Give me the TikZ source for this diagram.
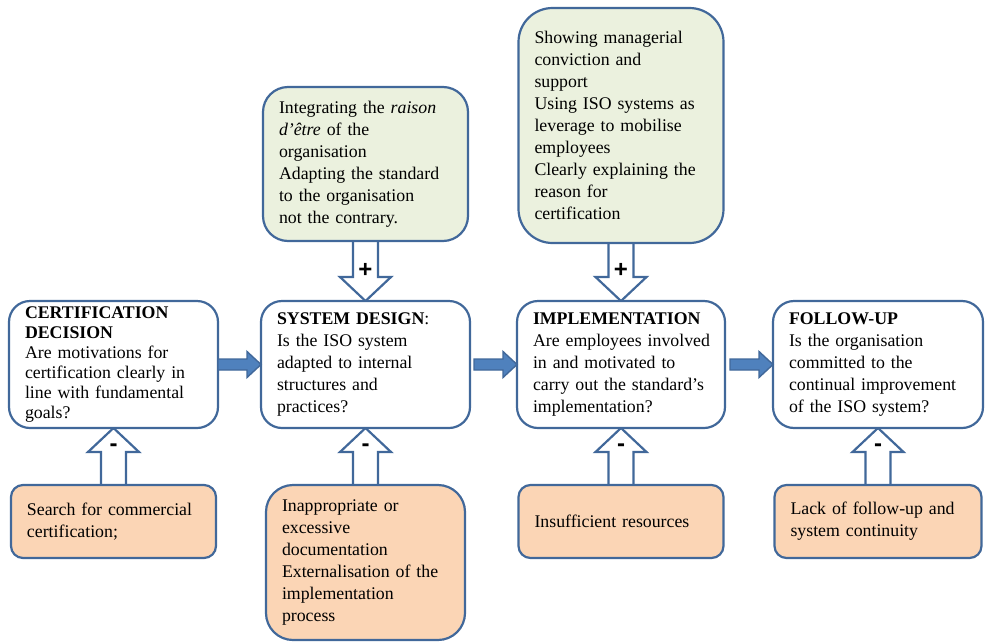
\documentclass[tikz,border=0pt]{standalone}
\usepackage{fontspec}
\setmainfont{Liberation Serif}
\newfontfamily\signfont{Liberation Sans}
\usepackage{tikz}
\usetikzlibrary{calc,positioning,backgrounds}
\definecolor{bordblue}{HTML}{41689A}
\definecolor{arrowblue}{HTML}{4F81BD}
\definecolor{plusgreen}{HTML}{EBF1DE}
\definecolor{minusorange}{HTML}{FBD5B5}
\newcommand\boxfont{\hyphenpenalty=10000\fontsize{17.8pt}{22pt}\selectfont}
\newcommand\certfont{\hyphenpenalty=10000\fontsize{17.8pt}{20pt}\selectfont}
\tikzset{
stagebox/.style={
  draw=bordblue,
  line width=2.2pt,
  fill=white,
  rounded corners=21pt,
  inner xsep=16pt,
  inner ysep=0pt,
  outer sep=0pt,
  align=left,
  text width=177pt,
  minimum height=127pt,
  font=\boxfont
  },
plusbox/.style 2 args={
  stagebox,
  fill=plusgreen,
  text width=#1,
  minimum height=#2
  },
minusbox/.style 2 args={
  stagebox,
  fill=minusorange,
  text width=#1,
  minimum height=#2
  },
hollow/.style={draw=bordblue,line width=2.2pt,fill=white,line join=miter},
fat/.style={draw=bordblue,line width=1.4pt,fill=arrowblue,line join=miter},
sign/.style={font=\signfont\bfseries\fontsize{24pt}{24pt}\selectfont,inner sep=0pt}
}
% hollow arrows with a sign, and the filled arrows between stages
\newcommand\pushdown[3]{%
  \draw[hollow] let \p1=(#1.south), \p2=(#2.north) in
    (\x1-12.5pt,\y1) -- (\x1-12.5pt,\y2+24pt) -- (\x1-25.5pt,\y2+24pt) -- (\x1,\y2)
    -- (\x1+25.5pt,\y2+24pt) -- (\x1+12.5pt,\y2+24pt) -- (\x1+12.5pt,\y1)
    node[sign] (sign-#1) at (\x1,\y2+31pt) {#3};}
\newcommand\pushup[3]{%
  \draw[hollow] let \p1=(#1.north), \p2=(#2.south) in
    (\x2-12.5pt,\y1) -- (\x2-12.5pt,\y2-24pt) -- (\x2-25.5pt,\y2-24pt) -- (\x2,\y2)
    -- (\x2+25.5pt,\y2-24pt) -- (\x2+12.5pt,\y2-24pt) -- (\x2+12.5pt,\y1)
    node[sign] (sign-#1) at (\x2,\y2-20pt) {#3};}
\newcommand\flowarrow[3]{%
  \draw[fat] let \p1=(#1.east), \p2=(#2.west) in
    (\x1+#3,\y1+5.5pt) -- (\x2-14pt,\y1+5.5pt) -- (\x2-14pt,\y1+13pt) -- (\x2,\y1)
    -- (\x2-14pt,\y1-13pt) -- (\x2-14pt,\y1-5.5pt) -- (\x1+#3,\y1-5.5pt) -- cycle;}
\begin{document}
\begin{tikzpicture}[x=1pt,y=-1pt]
            \useasboundingbox (0,0) rectangle (985,643);
            % stages
            \node[stagebox,anchor=north west,text width=177pt,font=\certfont] (cert) at (9,301)
                {\textbf{CERTIFICATION}\\\textbf{DECISION}\\Are motivations for\\certification clearly in\\line with fundamental\\goals?};
            \node[stagebox,right=43pt of cert] (design)
                {\textbf{SYSTEM DESIGN}:\\Is the ISO system\\adapted to internal\\structures and\\practices?};
            \node[stagebox,right=47pt of design,text width=176pt] (impl)
                {\textbf{IMPLEMENTATION}\\Are~employees~involved\\in and motivated to\\carry out the standard’s\\implementation?};
            \node[stagebox,right=48pt of impl,text width=178pt] (follow)
                {\textbf{FOLLOW-UP}\\Is the organisation\\committed to the\\continual improvement\\of the ISO system?};
            % positive factors
            \node[plusbox={173pt}{154pt},rounded corners=25pt,above=60pt of design] (designplus)
                {Integrating the \textit{raison}\\\textit{d’être} of the\\organisation\\Adapting the standard\\to the organisation\\not the contrary.};
            \node[plusbox={173pt}{235pt},rounded corners=34pt,above=58pt of impl] (implplus)
                {Showing managerial\\conviction and\\support\\Using ISO systems as\\leverage to mobilise\\employees\\Clearly explaining the\\reason for\\certification};
            % negative factors
            \node[minusbox={173pt}{73pt},rounded corners=12pt,below=57pt of cert] (certminus)
                {Search for commercial\\certification;};
            \node[minusbox={167pt}{155pt},rounded corners=27pt,below=57pt of design] (designminus)
                {Inappropriate or\\excessive\\documentation\\Externalisation of the\\implementation\\process};
            \node[minusbox={173pt}{73pt},rounded corners=12pt,below=57pt of impl] (implminus)
                {Insufficient resources};
            \node[minusbox={175pt}{73pt},rounded corners=12pt,below=57pt of follow] (followminus)
                {Lack of follow-up and\\system continuity};
            \begin{scope}[on background layer]
                \pushdown{designplus}{design}{+}
                \pushdown{implplus}{impl}{+}
                \pushup{certminus}{cert}{-}
                \pushup{designminus}{design}{-}
                \pushup{implminus}{impl}{-}
                \pushup{followminus}{follow}{-}
            \end{scope}
            \flowarrow{cert}{design}{0pt}
            \flowarrow{design}{impl}{4pt}
            \flowarrow{impl}{follow}{5pt}
        \end{tikzpicture}
\end{document}
